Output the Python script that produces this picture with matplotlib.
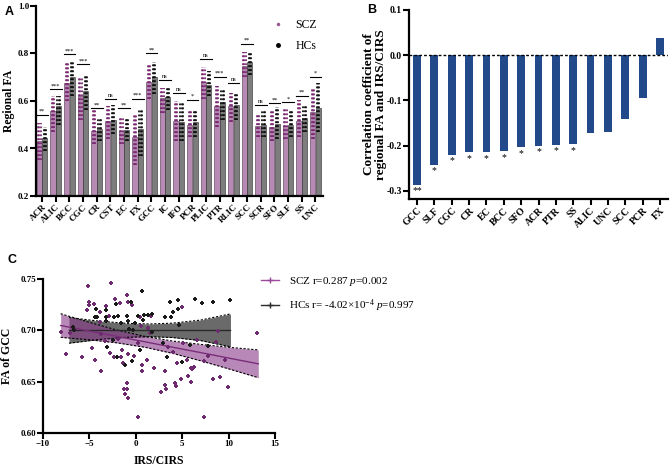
import matplotlib
matplotlib.use('Agg')
import matplotlib.pyplot as plt
import numpy as np
from matplotlib.lines import Line2D

plt.rcParams['font.family'] = ['Liberation Serif', 'DejaVu Serif']
plt.rcParams['mathtext.fontset'] = 'custom'
plt.rcParams['mathtext.rm'] = 'Liberation Serif'
plt.rcParams['mathtext.it'] = 'Liberation Serif:italic'
plt.rcParams['mathtext.bf'] = 'Liberation Serif:bold'

# ---------------- Panel A data ----------------
cats_A = ['ACR', 'ALIC', 'BCC', 'CGC', 'CR', 'CST', 'EC', 'FX', 'GCC', 'IC', 'IFO',
          'PCR', 'PLIC', 'PTR', 'RLIC', 'SCC', 'SCR', 'SFO', 'SLF', 'SS', 'UNC']
scz_mean = [0.431, 0.559, 0.675, 0.622, 0.473, 0.514, 0.473, 0.449, 0.682, 0.612, 0.514,
            0.500, 0.682, 0.577, 0.580, 0.749, 0.496, 0.489, 0.493, 0.514, 0.553]
hc_mean = [0.445, 0.577, 0.700, 0.644, 0.480, 0.520, 0.477, 0.482, 0.700, 0.616, 0.510,
           0.510, 0.668, 0.594, 0.584, 0.766, 0.500, 0.505, 0.500, 0.528, 0.570]
scz_lo = [0.35, 0.47, 0.60, 0.52, 0.42, 0.44, 0.42, 0.33, 0.61, 0.55, 0.43,
          0.45, 0.61, 0.49, 0.51, 0.70, 0.45, 0.43, 0.44, 0.45, 0.44]
scz_hi = [0.507, 0.62, 0.759, 0.70, 0.563, 0.577, 0.528, 0.542, 0.756, 0.654, 0.598,
          0.556, 0.745, 0.664, 0.633, 0.807, 0.546, 0.563, 0.570, 0.605, 0.654]
hc_lo = [0.39, 0.50, 0.62, 0.56, 0.43, 0.46, 0.43, 0.37, 0.63, 0.56, 0.43,
         0.45, 0.62, 0.52, 0.52, 0.71, 0.45, 0.44, 0.45, 0.47, 0.47]
hc_hi = [0.49, 0.619, 0.766, 0.71, 0.528, 0.584, 0.526, 0.567, 0.766, 0.66, 0.59,
         0.556, 0.728, 0.647, 0.629, 0.807, 0.556, 0.574, 0.563, 0.584, 0.675]
sig_A = ['**', '***', '***', '***', '**', 'ns', '**', '***', '**', 'ns', 'ns',
         '*', 'ns', '***', 'ns', '**', 'ns', '**', '*', '**', '*']
sig_h = [0.542, 0.650, 0.796, 0.754, 0.570, 0.609, 0.570, 0.609, 0.800, 0.689, 0.633,
         0.605, 0.777, 0.703, 0.675, 0.842, 0.584, 0.591, 0.595, 0.622, 0.703]

# ---------------- Panel B data ----------------
cats_B = ['GCC', 'SLF', 'CGC', 'CR', 'EC', 'BCC', 'SFO', 'ACR', 'PTR', 'SS',
          'ALIC', 'UNC', 'SCC', 'PCR', 'FX']
corr_B = [-0.286, -0.242, -0.220, -0.215, -0.215, -0.212, -0.204, -0.200, -0.198, -0.196,
          -0.171, -0.169, -0.141, -0.095, 0.037]
sig_B = ['**', '*', '*', '*', '*', '*', '*', '*', '*', '*', '', '', '', '', '']

# ---------------- Panel C data ----------------
scz_x = [-8.1, -7.5, -5.8, -4.7, -4.4, -3.8, -2.8, -2.3, -1.6, -1.5, -1.4, -1.3, -1.2, -0.9,
         -0.9, -0.8, -0.8, -0.2, 0.2, 0.25, 0.7, 0.7, 1.2, 2.0, 2.7, 3.1, 3.1, 3.3, 4.2,
         4.3, 4.4, 4.9, 5.5, 5.6, 6.0, 6.1, 5.9, 6.3, 7.3, 7.4, 7.8, 8.3, 9.1, 9.9, 9.6,
         13.1, -7.1, -3.7, -3.3, -1.9, 0.6, 1.5, 3.5, 4.0, 5.1, 6.6, 8.6, 8.9,
         -5.1, -2.7, -5.0, -5.0, -5.3, -4.5, -3.9, -3.2, -2.2, -1.7, -1.0, -0.8, -0.4,
         -2.9, 0.4, 1.6, -3.9, 5.0, 1.3]
scz_y = [0.698, 0.677, 0.674, 0.683, 0.671, 0.660, 0.678, 0.674, 0.674, 0.681, 0.668, 0.643,
         0.638, 0.649, 0.643, 0.634, 0.677, 0.675, 0.688, 0.616, 0.660, 0.666, 0.671, 0.663,
         0.640, 0.660, 0.647, 0.643, 0.649, 0.646, 0.668, 0.653, 0.671, 0.656, 0.663, 0.662,
         0.650, 0.664, 0.670, 0.616, 0.675, 0.653, 0.655, 0.645, 0.671, 0.697,
         0.697, 0.696, 0.690, 0.692, 0.704, 0.697, 0.684, 0.679, 0.688, 0.691, 0.689, 0.699,
         0.743, 0.746, 0.728, 0.725, 0.720, 0.726, 0.718, 0.724, 0.731, 0.727, 0.734, 0.728,
         0.725, 0.714, 0.713, 0.714, 0.708, 0.723, 0.702]
hc_x = [-3.1, -2.0, -1.2, -0.4, 0.4, 3.4, 5.0, -6.8, -2.5, -0.7, -0.1, 0.8, 2.9, 4.7, 5.8,
        7.8, 0.7, -4.3, -3.2, -2.1, -0.5, -4.4, -4.2, -3.2, -2.4, -1.9, -1.0, 0.25, 0.9,
        1.3, 1.7, -0.8, -1.6, -3.2, 3.7, 4.6, 4.0, 4.6, 3.8, 3.1, 6.4, 7.1, 8.3, 10.1,
        -6.7, 1.7, -0.3]
hc_y = [0.684, 0.674, 0.666, 0.670, 0.681, 0.674, 0.669, 0.703, 0.691, 0.701, 0.707, 0.710,
        0.688, 0.705, 0.686, 0.685, 0.738, 0.721, 0.720, 0.726, 0.728, 0.713, 0.713, 0.713,
        0.713, 0.714, 0.714, 0.714, 0.715, 0.715, 0.716, 0.709, 0.707, 0.709, 0.728, 0.730,
        0.718, 0.721, 0.713, 0.713, 0.731, 0.727, 0.728, 0.730, 0.700, 0.698, 0.700]

# regression lines and confidence bands
scz_bx = [-8.1, -5.0, -2.0, 1.0, 4.0, 7.0, 10.0, 13.2]
scz_fit = [0.7047, 0.6993, 0.6940, 0.6888, 0.6835, 0.6783, 0.6730, 0.6674]
scz_up = [0.7162, 0.7078, 0.7002, 0.6941, 0.6895, 0.6863, 0.6835, 0.6809]
scz_dn = [0.6932, 0.6908, 0.6878, 0.6835, 0.6775, 0.6703, 0.6625, 0.6539]
hc_bx = [-7.2, -4.0, -1.0, 1.5, 4.0, 7.0, 10.2]
hc_fit = [0.700, 0.700, 0.700, 0.700, 0.700, 0.700, 0.700]
hc_up = [0.7125, 0.7090, 0.7068, 0.7062, 0.7070, 0.7100, 0.7160]
hc_dn = [0.6875, 0.6910, 0.6932, 0.6938, 0.6930, 0.6900, 0.6840]

W, H = 670, 469
fig = plt.figure(figsize=(6.7, 4.69), dpi=100)


def box(l, t, r, b):
    return [l / W, 1 - b / H, (r - l) / W, (b - t) / H]


def style(ax, fs=6.5):
    for s in ['top', 'right']:
        ax.spines[s].set_visible(False)
    for s in ['left', 'bottom']:
        ax.spines[s].set_linewidth(1.6)
    ax.tick_params(width=1.5, length=4, labelsize=fs, pad=1.0)
    for lab in ax.get_xticklabels() + ax.get_yticklabels():
        lab.set_fontweight('bold')


# ---------------- Panel A ----------------
axA = fig.add_axes(box(36, 6, 323, 196))
x = np.arange(len(cats_A))
off, bw = 0.2, 0.38
axA.bar(x - off, scz_mean, bw, color='#b78ab4', edgecolor='#4a3048', lw=0.4, zorder=2)
axA.bar(x + off, hc_mean, bw, color='#7d7d7d', edgecolor='#2a2a2a', lw=0.4, zorder=2)
for d in (-0.08, 0.0, 0.08):
    axA.vlines(x - off + d, scz_lo, scz_hi, colors='#7b2a72', lw=1.3,
               linestyles=(0, (1.0, 1.2)), zorder=3)
    axA.vlines(x + off + d, hc_lo, hc_hi, colors='#111111', lw=1.3,
               linestyles=(0, (1.0, 1.2)), zorder=3)
for i, (s, h) in enumerate(zip(sig_A, sig_h)):
    axA.plot([i - 0.42, i + 0.42], [h, h], color='k', lw=0.8, zorder=4)
    axA.text(i, h + 0.004, s, ha='center', va='bottom', fontsize=4.5, zorder=4)
axA.set_xlim(-0.45, 20.55)
axA.set_ylim(0.2, 1.0)
axA.set_yticks([0.2, 0.4, 0.6, 0.8, 1.0])
axA.set_yticklabels(['0.2', '0.4', '0.6', '0.8', '1.0'])
axA.set_xticks(x)
axA.set_xticklabels(cats_A, rotation=45, ha='right', rotation_mode='anchor')
style(axA, 6.5)
axA.set_ylabel('Regional FA', fontsize=8.5, fontweight='bold', labelpad=2)
axA.legend(handles=[Line2D([], [], ls='none', marker='.', ms=3, color='#9a5a95'),
                    Line2D([], [], ls='none', marker='o', ms=2.5, color='k')],
           labels=['SCZ', 'HCs'], loc='upper left', bbox_to_anchor=(265 / W, 1 - 13 / H),
           bbox_transform=fig.transFigure, frameon=False, fontsize=8.5,
           handlelength=1.2, handletextpad=0.9, labelspacing=0.75, borderpad=0)
fig.text(5 / W, 1 - 12 / H, 'A', family='Liberation Sans', fontweight='bold', fontsize=9,
         va='center', ha='left')

# ---------------- Panel B ----------------
axB = fig.add_axes(box(409, 10, 668, 199))
xb = np.arange(len(cats_B))
axB.bar(xb, corr_B, 0.45, color='#224a8a', zorder=2)
axB.axhline(0, color='k', lw=1.0, ls=(0, (2, 1.5)), zorder=3)
for i, (v, s) in enumerate(zip(corr_B, sig_B)):
    if s:
        axB.text(i, v - 0.004, s, ha='center', va='top', fontsize=7)
axB.set_xlim(-0.46, 14.46)
axB.set_ylim(-0.318, 0.1)
axB.set_yticks([0.1, 0.0, -0.1, -0.2, -0.3])
axB.set_yticklabels(['0.1', '0.0', '-0.1', '-0.2', '-0.3'])
axB.set_xticks(xb)
axB.set_xticklabels(cats_B, rotation=45, ha='right', rotation_mode='anchor')
style(axB, 7)
axB.set_ylabel('Correlation coefficient of\nregional FA and IRS/CIRS', fontsize=9.5,
               fontweight='bold', labelpad=0, linespacing=1.0)
fig.text(367 / W, 1 - 10 / H, 'B', family='Liberation Sans', fontweight='bold', fontsize=9,
         va='center', ha='left')

# ---------------- Panel C ----------------
axC = fig.add_axes(box(43, 279, 275, 433))
axC.fill_between(hc_bx, hc_dn, hc_up, color='#6a6a6a', lw=0, zorder=1)
axC.fill_between(scz_bx, scz_dn, scz_up, color='#8a3a8a', alpha=0.6, lw=0, zorder=2)
for bx, u, d in ((hc_bx, hc_up, hc_dn), (scz_bx, scz_up, scz_dn)):
    axC.plot(bx, u, color='k', lw=0.8, ls=(0, (2, 1.5)), zorder=3)
    axC.plot(bx, d, color='k', lw=0.8, ls=(0, (2, 1.5)), zorder=3)
axC.plot(hc_bx, hc_fit, color='#2a2a2a', lw=1.0, zorder=4)
axC.plot(scz_bx, scz_fit, color='#7a2e7a', lw=1.0, zorder=4)
axC.scatter(scz_x, scz_y, marker='P', s=5, color='#6e2a6e', lw=0, zorder=5)
axC.scatter(hc_x, hc_y, marker='P', s=5, color='#1a1a1a', lw=0, zorder=5)
axC.set_xlim(-10, 15)
axC.set_ylim(0.60, 0.75)
axC.set_xticks([-10, -5, 0, 5, 10, 15])
axC.set_yticks([0.60, 0.65, 0.70, 0.75])
axC.set_yticklabels(['0.60', '0.65', '0.70', '0.75'])
style(axC, 6.5)
axC.set_xlabel('IRS/CIRS', fontsize=8.5, fontweight='bold', labelpad=5)
axC.set_ylabel('FA of GCC', fontsize=8.5, fontweight='bold', labelpad=5)
fig.legend(handles=[Line2D([], [], color='#9a4a9a', marker='+', ms=4, lw=1),
                    Line2D([], [], color='#2a2a2a', marker='+', ms=4, lw=1)],
           labels=['SCZ r=0.287 $p$=0.002', 'HCs r= -4.02\u00d710$^{-4}$ $p$=0.997'],
           loc='upper left', bbox_to_anchor=(255 / W, 1 - 269 / H), frameon=False,
           fontsize=8, handlelength=1.7, handletextpad=0.9, labelspacing=0.9, borderpad=0)
fig.text(8 / W, 1 - 260 / H, 'C', family='Liberation Sans', fontweight='bold', fontsize=9,
         va='center', ha='left')

fig.savefig('out.png', dpi=100)
